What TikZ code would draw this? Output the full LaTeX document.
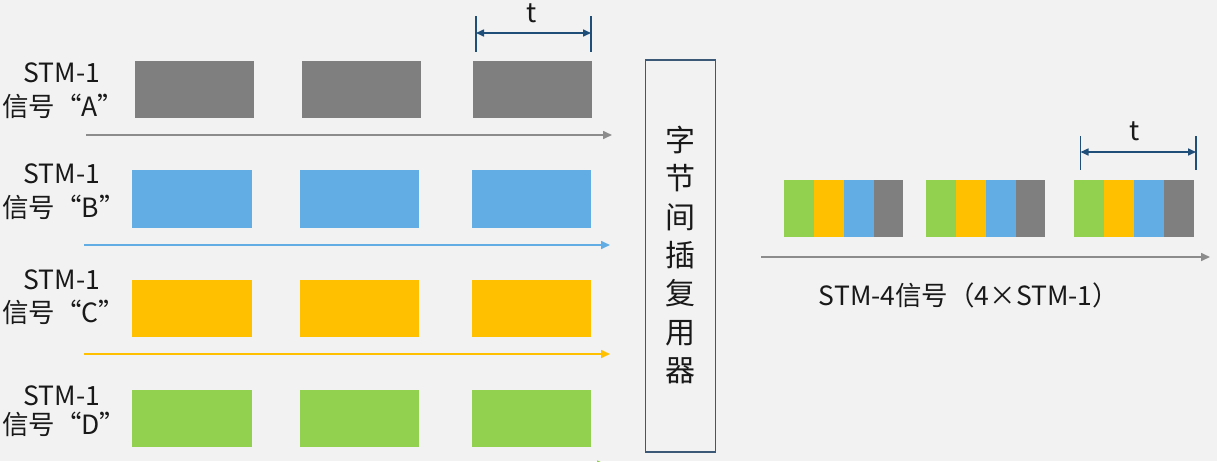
\documentclass[tikz,border=0pt]{standalone}
\usepackage{fontspec}
\setmainfont{Noto Sans CJK SC}
\usetikzlibrary{arrows.meta}
\definecolor{bg}{HTML}{F2F2F2}
\definecolor{cgrey}{HTML}{7F7F7F}
\definecolor{cblue}{HTML}{62AEE4}
\definecolor{corange}{HTML}{FFC000}
\definecolor{cgreen}{HTML}{92D050}
\definecolor{darkb}{HTML}{1F4E79}
\definecolor{boxb}{HTML}{3C5A78}
\definecolor{agrey}{HTML}{8C8C8C}
\newcommand{\myrq}{\makebox[0.45em][l]{”}}
\begin{document}
\begin{tikzpicture}[x=1pt,y=-1pt,
  lbl/.style={font=\fontsize{26.5}{30}\selectfont, inner sep=0pt, text=black!90},
  sig/.style={lbl, anchor=west},
  timearrow/.style={line width=1.6pt, -{Triangle[length=9pt,width=8pt]}},
  tick/.style={line width=1.4pt, darkb},
  tdim/.style={line width=1.6pt, darkb, {Triangle[length=8pt,width=7pt]}-{Triangle[length=8pt,width=7pt]}},
  tlbl/.style={font=\fontsize{27}{30}\selectfont, inner sep=0pt, text=black!90}]
\fill[bg] (0,0) rectangle (1217,461);
\useasboundingbox (0,0) rectangle (1217,461);

% row A
\fill[cgrey] (135,61) rectangle (254,118);
\fill[cgrey] (302,61) rectangle (421,118);
\fill[cgrey] (473,61) rectangle (592,118);
\coordinate (aA0) at (86,135); \coordinate (aA1) at (612,135);
\draw[timearrow, agrey] (aA0) -- (aA1);
\node[lbl] (sA1) at (62,73) {STM-1};
\node[sig] (sA2) at (2,106) {信号“A\myrq};

% row B
\fill[cblue] (132,170) rectangle (252,228);
\fill[cblue] (300,170) rectangle (419,228);
\fill[cblue] (472,170) rectangle (591,228);
\coordinate (aB0) at (84,245); \coordinate (aB1) at (610,245);
\draw[timearrow, cblue] (aB0) -- (aB1);
\node[lbl] (sB1) at (62,174) {STM-1};
\node[sig] (sB2) at (2,207) {信号“B\myrq};

% row C
\fill[corange] (132,280) rectangle (252,337);
\fill[corange] (300,280) rectangle (419,337);
\fill[corange] (472,280) rectangle (591,337);
\coordinate (aC0) at (84,354); \coordinate (aC1) at (610,354);
\draw[timearrow, corange] (aC0) -- (aC1);
\node[lbl] (sC1) at (62,280) {STM-1};
\node[sig] (sC2) at (2,312) {信号“C\myrq};

% row D
\fill[cgreen] (132,390) rectangle (252,447);
\fill[cgreen] (300,390) rectangle (419,447);
\fill[cgreen] (472,390) rectangle (591,447);
\coordinate (aD0) at (84,464.5); \coordinate (aD1) at (606,464.5);
\draw[timearrow, cgreen] (aD0) -- (aD1);
\node[lbl] (sD1) at (62,396) {STM-1};
\node[sig] (sD2) at (2,424) {信号“D\myrq};

% t dimension left
\coordinate (tl0) at (476,16); \coordinate (tl1) at (476,52);
\coordinate (tr0) at (591,16); \coordinate (tr1) at (591,52);
\draw[tick] (tl0) -- (tl1);
\draw[tick] (tr0) -- (tr1);
\coordinate (tla) at (476,33); \coordinate (tlb) at (591,33);
\draw[tdim] (tla) -- (tlb);
\node[tlbl] (t1) at (532,13) {t};

% multiplexer
\node[draw=boxb, line width=1.8pt, minimum width=70pt, minimum height=392pt, inner sep=0pt] (mux) at (680.5,256) {};
\node[font=\fontsize{30}{38.3}\selectfont, align=center, inner sep=0pt, text=black!90] (muxt) at (680,255) {字\\节\\间\\插\\复\\用\\器};

% output blocks
\foreach \x [count=\i] in {783.5,925.6,1074} {
  \fill[cgreen]  (\x,180) rectangle ++(30,57);
  \fill[corange] (\x+30,180) rectangle ++(30,57);
  \fill[cblue]   (\x+60,180) rectangle ++(30,57);
  \fill[cgrey]   (\x+90,180) rectangle ++(29.5,57);
}
\coordinate (o0) at (761,257); \coordinate (o1) at (1210,257);
\draw[timearrow, agrey] (o0) -- (o1);
\node[lbl] (out) at (969,295) {STM-4信号（4×STM-1）};

% t dimension right
\coordinate (rl0) at (1080.5,136); \coordinate (rl1) at (1080.5,170);
\coordinate (rr0) at (1196,136); \coordinate (rr1) at (1196,170);
\draw[tick] (rl0) -- (rl1);
\draw[tick] (rr0) -- (rr1);
\coordinate (rla) at (1080.5,152); \coordinate (rlb) at (1196,152);
\draw[tdim] (rla) -- (rlb);
\node[tlbl] (t2) at (1135,131) {t};
\end{tikzpicture}
\end{document}
